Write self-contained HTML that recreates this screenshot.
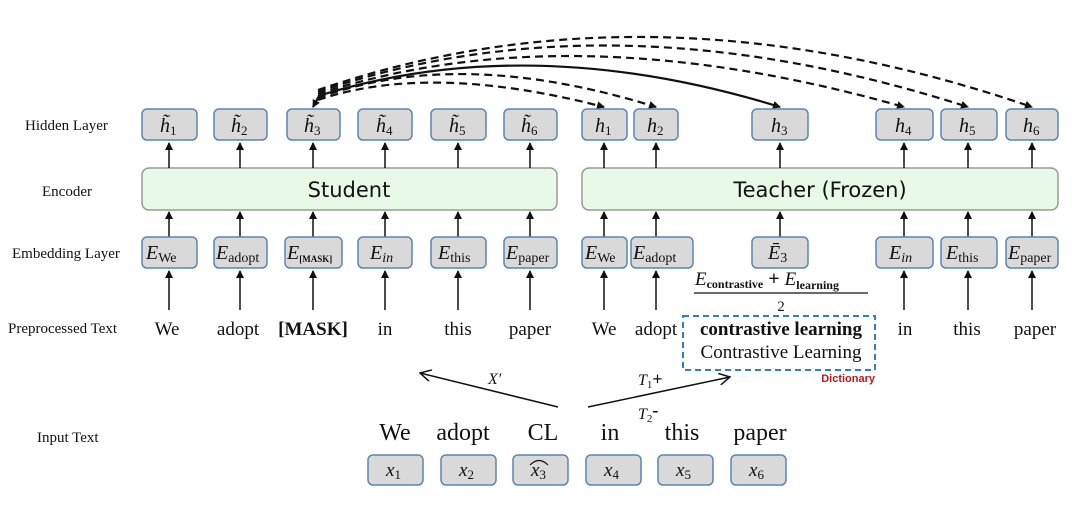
<!DOCTYPE html>
<html><head><meta charset="utf-8"><style>
body{margin:0;background:#fff;}
svg{display:block}
.lbl{font-family:"Liberation Serif",serif;font-size:15px;fill:#111}
.m{font-family:"Liberation Serif",serif;font-style:italic;fill:#111}
.t{font-family:"Liberation Serif",serif;fill:#111}
.box{fill:#d9d9d9;stroke:#5b86b3;stroke-width:1.5}
.enc{fill:#e8f9e8;stroke:#9a9a9a;stroke-width:1.5}
</style></head><body>
<svg width="1080" height="522" viewBox="0 0 1080 522" xmlns="http://www.w3.org/2000/svg">
<defs>
<marker id="a" markerWidth="8" markerHeight="8" refX="7" refY="4" orient="auto" markerUnits="userSpaceOnUse"><path d="M0,0 L8,4 L0,8 z" fill="#111"/></marker>
<marker id="o" markerWidth="12" markerHeight="12" refX="11" refY="6" orient="auto" markerUnits="userSpaceOnUse"><path d="M0,0 L11,6 L0,12" fill="none" stroke="#111" stroke-width="1.5"/></marker>
</defs>
<text class="lbl" x="25" y="130">Hidden Layer</text>
<text class="lbl" x="42" y="196">Encoder</text>
<text class="lbl" x="12" y="258">Embedding Layer</text>
<text class="lbl" x="8" y="333">Preprocessed Text</text>
<text class="lbl" x="37" y="442">Input Text</text>

<rect class="enc" x="142" y="168" width="415" height="42" rx="7"/>
<text x="349" y="197" text-anchor="middle" font-family="DejaVu Sans,sans-serif" font-size="21" fill="#111">Student</text>
<rect class="enc" x="582" y="168" width="476" height="42" rx="7"/>
<text x="820" y="197" text-anchor="middle" font-family="DejaVu Sans,sans-serif" font-size="21" fill="#111">Teacher (Frozen)</text>

<g stroke="#111" stroke-width="1.5">
<line x1="169" y1="168" x2="169" y2="143" marker-end="url(#a)"/><line x1="240" y1="168" x2="240" y2="143" marker-end="url(#a)"/><line x1="313" y1="168" x2="313" y2="143" marker-end="url(#a)"/><line x1="385" y1="168" x2="385" y2="143" marker-end="url(#a)"/><line x1="458" y1="168" x2="458" y2="143" marker-end="url(#a)"/><line x1="530" y1="168" x2="530" y2="143" marker-end="url(#a)"/>
<line x1="169" y1="237" x2="169" y2="212" marker-end="url(#a)"/><line x1="240" y1="237" x2="240" y2="212" marker-end="url(#a)"/><line x1="313" y1="237" x2="313" y2="212" marker-end="url(#a)"/><line x1="385" y1="237" x2="385" y2="212" marker-end="url(#a)"/><line x1="458" y1="237" x2="458" y2="212" marker-end="url(#a)"/><line x1="530" y1="237" x2="530" y2="212" marker-end="url(#a)"/>
<line x1="169" y1="310" x2="169" y2="271" marker-end="url(#a)"/><line x1="240" y1="310" x2="240" y2="271" marker-end="url(#a)"/><line x1="313" y1="310" x2="313" y2="271" marker-end="url(#a)"/><line x1="385" y1="310" x2="385" y2="271" marker-end="url(#a)"/><line x1="458" y1="310" x2="458" y2="271" marker-end="url(#a)"/><line x1="530" y1="310" x2="530" y2="271" marker-end="url(#a)"/>
<line x1="604" y1="168" x2="604" y2="143" marker-end="url(#a)"/><line x1="656" y1="168" x2="656" y2="143" marker-end="url(#a)"/><line x1="780" y1="168" x2="780" y2="143" marker-end="url(#a)"/><line x1="904" y1="168" x2="904" y2="143" marker-end="url(#a)"/><line x1="968" y1="168" x2="968" y2="143" marker-end="url(#a)"/><line x1="1032" y1="168" x2="1032" y2="143" marker-end="url(#a)"/>
<line x1="604" y1="237" x2="604" y2="212" marker-end="url(#a)"/><line x1="656" y1="237" x2="656" y2="212" marker-end="url(#a)"/><line x1="780" y1="237" x2="780" y2="212" marker-end="url(#a)"/><line x1="904" y1="237" x2="904" y2="212" marker-end="url(#a)"/><line x1="968" y1="237" x2="968" y2="212" marker-end="url(#a)"/><line x1="1032" y1="237" x2="1032" y2="212" marker-end="url(#a)"/>
<line x1="604" y1="310" x2="604" y2="271" marker-end="url(#a)"/><line x1="656" y1="310" x2="656" y2="271" marker-end="url(#a)"/><line x1="904" y1="310" x2="904" y2="271" marker-end="url(#a)"/><line x1="968" y1="310" x2="968" y2="271" marker-end="url(#a)"/><line x1="1032" y1="310" x2="1032" y2="271" marker-end="url(#a)"/>
</g>

<g fill="none" stroke="#111" stroke-width="2.2">
<path d="M318,100 Q430,62 604,107" stroke-dasharray="8,5" marker-end="url(#a)"/>
<path d="M318,98 Q460,46 656,107" stroke-dasharray="8,5" marker-end="url(#a)"/>
<path d="M318,96 Q530,30 780,107" marker-end="url(#a)"/>
<path d="M318,94 Q570,12 904,107" stroke-dasharray="8,5" marker-end="url(#a)"/>
<path d="M318,92 Q610,-8 968,107" stroke-dasharray="8,5" marker-end="url(#a)"/>
<path d="M318,90 Q650,-24 1032,107" stroke-dasharray="8,5" marker-end="url(#a)"/>
<path d="M320,94 L313,107" marker-end="url(#a)"/>
</g>

<g>
<rect class="box" x="142" y="109" width="55" height="31" rx="5"/><rect class="box" x="214" y="109" width="53" height="31" rx="5"/><rect class="box" x="287" y="109" width="53" height="31" rx="5"/><rect class="box" x="358" y="109" width="54" height="31" rx="5"/><rect class="box" x="431" y="109" width="55" height="31" rx="5"/><rect class="box" x="504" y="109" width="53" height="31" rx="5"/>
<rect class="box" x="582" y="109" width="45" height="31" rx="5"/><rect class="box" x="634" y="109" width="44" height="31" rx="5"/><rect class="box" x="752" y="109" width="56" height="31" rx="5"/><rect class="box" x="876" y="109" width="57" height="31" rx="5"/><rect class="box" x="941" y="109" width="56" height="31" rx="5"/><rect class="box" x="1006" y="109" width="52" height="31" rx="5"/>
</g>
<g class="m" font-size="20">
<text x="160" y="132">h̃<tspan font-size="13" font-style="normal" dy="3">1</tspan></text>
<text x="231" y="132">h̃<tspan font-size="13" font-style="normal" dy="3">2</tspan></text>
<text x="304" y="132">h̃<tspan font-size="13" font-style="normal" dy="3">3</tspan></text>
<text x="376" y="132">h̃<tspan font-size="13" font-style="normal" dy="3">4</tspan></text>
<text x="449" y="132">h̃<tspan font-size="13" font-style="normal" dy="3">5</tspan></text>
<text x="521" y="132">h̃<tspan font-size="13" font-style="normal" dy="3">6</tspan></text>
<text x="595" y="132">h<tspan font-size="13" font-style="normal" dy="3">1</tspan></text>
<text x="647" y="132">h<tspan font-size="13" font-style="normal" dy="3">2</tspan></text>
<text x="771" y="132">h<tspan font-size="13" font-style="normal" dy="3">3</tspan></text>
<text x="895" y="132">h<tspan font-size="13" font-style="normal" dy="3">4</tspan></text>
<text x="959" y="132">h<tspan font-size="13" font-style="normal" dy="3">5</tspan></text>
<text x="1023" y="132">h<tspan font-size="13" font-style="normal" dy="3">6</tspan></text>
</g>

<g>
<rect class="box" x="142" y="237" width="55" height="31" rx="5"/><rect class="box" x="214" y="237" width="53" height="31" rx="5"/><rect class="box" x="285" y="237" width="57" height="31" rx="5"/><rect class="box" x="358" y="237" width="54" height="31" rx="5"/><rect class="box" x="431" y="237" width="55" height="31" rx="5"/><rect class="box" x="504" y="237" width="53" height="31" rx="5"/>
<rect class="box" x="582" y="237" width="45" height="31" rx="5"/><rect class="box" x="631" y="237" width="62" height="31" rx="5"/><rect class="box" x="752" y="237" width="56" height="31" rx="5"/><rect class="box" x="876" y="237" width="57" height="31" rx="5"/><rect class="box" x="941" y="237" width="56" height="31" rx="5"/><rect class="box" x="1006" y="237" width="52" height="31" rx="5"/>
</g>
<g class="m" font-size="20">
<text x="146" y="259">E<tspan font-style="normal" font-size="14" dy="3">We</tspan></text>
<text x="216" y="259">E<tspan font-style="normal" font-size="14" dy="3">adopt</tspan></text>
<text x="287" y="259">E<tspan font-style="normal" font-weight="bold" font-size="9" dy="3">[MASK]</tspan></text>
<text x="370" y="259">E<tspan font-size="14" dy="3">in</tspan></text>
<text x="438" y="259">E<tspan font-style="normal" font-size="14" dy="3">this</tspan></text>
<text x="506" y="259">E<tspan font-style="normal" font-size="14" dy="3">paper</tspan></text>
<text x="585" y="259">E<tspan font-style="normal" font-size="14" dy="3">We</tspan></text>
<text x="633" y="259">E<tspan font-style="normal" font-size="14" dy="3">adopt</tspan></text>
<text x="768" y="259">Ē<tspan font-style="normal" font-size="14" dy="3">3</tspan></text>
<text x="889" y="259">E<tspan font-size="14" dy="3">in</tspan></text>
<text x="946" y="259">E<tspan font-style="normal" font-size="14" dy="3">this</tspan></text>
<text x="1008" y="259">E<tspan font-style="normal" font-size="14" dy="3">paper</tspan></text>
</g>

<text class="m" x="695" y="285" font-size="19">E<tspan font-style="normal" font-weight="bold" font-size="12" dy="3">contrastive</tspan><tspan font-style="normal" font-weight="bold" font-size="20" dy="-3"> + </tspan>E<tspan font-style="normal" font-weight="bold" font-size="12" dy="4">learning</tspan></text>
<line x1="694" y1="293" x2="868" y2="293" stroke="#111" stroke-width="1.3"/>
<text class="t" x="781" y="311" font-size="15" text-anchor="middle">2</text>

<g class="t" font-size="19" text-anchor="middle">
<text x="167" y="335">We</text><text x="238" y="335">adopt</text><text x="313" y="335" font-weight="bold">[MASK]</text><text x="385" y="335">in</text><text x="458" y="335">this</text><text x="530" y="335">paper</text>
<text x="604" y="335">We</text><text x="656" y="335">adopt</text><text x="905" y="335">in</text><text x="967" y="335">this</text><text x="1035" y="335">paper</text>
<text x="781" y="335" font-weight="bold">contrastive learning</text>
<text x="781" y="358">Contrastive Learning</text>
</g>
<rect x="683" y="316" width="192" height="54" fill="none" stroke="#2a7fd0" stroke-width="2" stroke-dasharray="6,4"/>
<text x="875" y="382" text-anchor="end" font-family="Liberation Sans,sans-serif" font-weight="bold" font-size="11" fill="#c0161c">Dictionary</text>

<g stroke="#111" stroke-width="1.5" fill="none">
<line x1="558" y1="407" x2="420" y2="373" marker-end="url(#o)"/>
<line x1="588" y1="407" x2="730" y2="377" marker-end="url(#o)"/>
</g>
<text class="m" x="488" y="384" font-size="16">X′</text>
<text class="m" x="638" y="385" font-size="16">T<tspan font-style="normal" font-size="11" dy="3">1</tspan><tspan font-style="normal" font-weight="bold" font-size="18" dy="-3">+</tspan></text>
<text class="m" x="638" y="419" font-size="16">T<tspan font-style="normal" font-size="11" dy="3">2</tspan><tspan font-style="normal" font-weight="bold" font-size="18" dy="-6">-</tspan></text>

<g class="t" font-size="24" text-anchor="middle">
<text x="395" y="440">We</text><text x="463" y="440">adopt</text><text x="543" y="440">CL</text><text x="610" y="440">in</text><text x="682" y="440">this</text><text x="760" y="440">paper</text>
</g>
<g>
<rect class="box" x="368" y="455" width="55" height="30" rx="5"/><rect class="box" x="441" y="455" width="55" height="30" rx="5"/><rect class="box" x="513" y="455" width="55" height="30" rx="5"/><rect class="box" x="586" y="455" width="55" height="30" rx="5"/><rect class="box" x="658" y="455" width="55" height="30" rx="5"/><rect class="box" x="731" y="455" width="55" height="30" rx="5"/>
</g>
<g class="m" font-size="19">
<text x="386" y="476">x<tspan font-style="normal" font-size="13" dy="3">1</tspan></text>
<text x="459" y="476">x<tspan font-style="normal" font-size="13" dy="3">2</tspan></text>
<text x="531" y="476">x<tspan font-style="normal" font-size="13" dy="3">3</tspan></text>
<text x="604" y="476">x<tspan font-style="normal" font-size="13" dy="3">4</tspan></text>
<text x="676" y="476">x<tspan font-style="normal" font-size="13" dy="3">5</tspan></text>
<text x="749" y="476">x<tspan font-style="normal" font-size="13" dy="3">6</tspan></text>
</g>
<path d="M530,465 Q539,456 548,465" fill="none" stroke="#111" stroke-width="1.2"/>
</svg>
</body></html>
